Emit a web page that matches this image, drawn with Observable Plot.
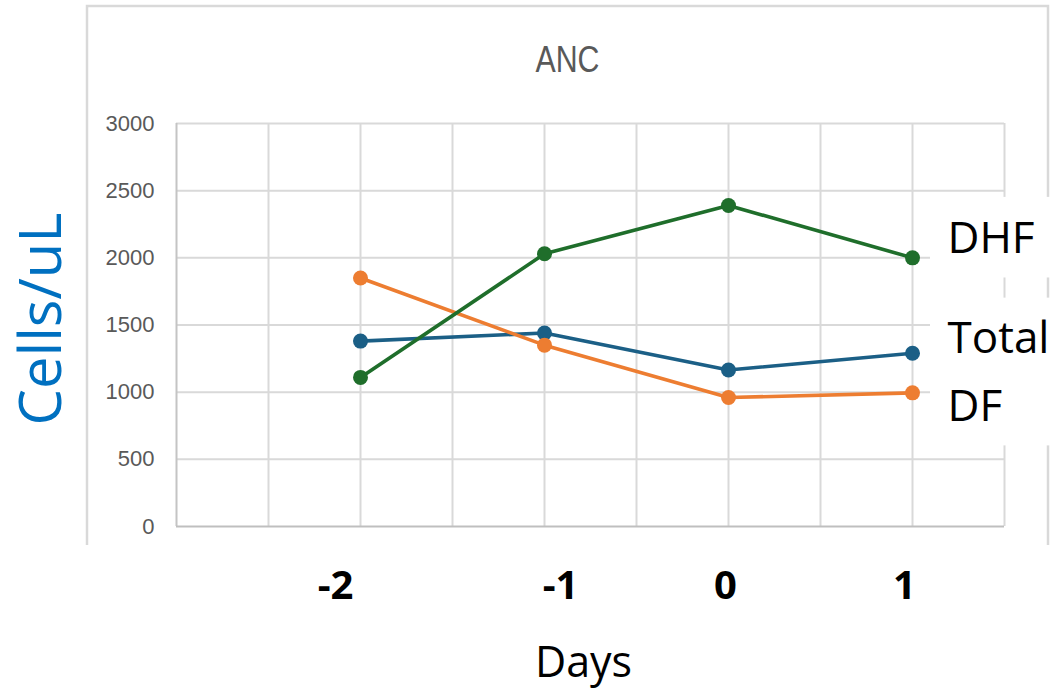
<!DOCTYPE html>
<html>
<head>
<meta charset="utf-8">
<script src="https://cdn.jsdelivr.net/npm/d3@7"></script>
<script src="https://cdn.jsdelivr.net/npm/@observablehq/plot@0.6"></script>
<style>
  body { margin: 0; background: #fff; }
  #chart svg { display: block; }
</style>
</head>
<body>
<div id="chart"></div>
<script>
// ---- data ----
const days = [-2, -1, 0, 1];
const totalValues = [1380, 1440, 1165, 1290];
const dfValues = [1850, 1350, 960, 995];
const dhfValues = [1110, 2030, 2390, 2000];
const seriesNames = ["Total", "DF", "DHF"];
const seriesColors = ["#1b5f86", "#ed7d31", "#1f6e2b"];
const yTicks = [0, 500, 1000, 1500, 2000, 2500, 3000];
const xGrid = [-3, -2.5, -2, -1.5, -1, -0.5, 0, 0.5, 1, 1.5];
const xTickLabels = ["-2", "-1", "0", "1"];
const title = "ANC";
const xLabel = "Days";
const yLabel = "Cells/uL";

// ---- styling ----
const xTickShift = [-25, 16, -3, -8];
const labelDy = {Total: -14, DF: 14, DHF: -19};
const labelBoxes = [[1850, 2450], [600, 1700]];

const seriesValues = [totalValues, dfValues, dhfValues];
const color = Object.fromEntries(seriesNames.map((n, i) => [n, seriesColors[i]]));
const rows = seriesNames.flatMap((name, i) =>
  days.map((d, j) => ({series: name, day: d, value: seriesValues[i][j]})));
const lastRows = seriesNames.map((name, i) =>
  ({series: name, day: days[days.length - 1], value: seriesValues[i][days.length - 1]}));

function decor(index, scales, values, dims) {
  const g = d3.create("svg:g");
  g.append("path")
    .attr("d", "M87,545V6H1048V545")
    .attr("fill", "none")
    .attr("stroke", "#d9d9d9")
    .attr("stroke-width", 2.5);
  const x = scales.x, y = scales.y;
  const bx = x(days[days.length - 1]) + 18;
  for (const [lo, hi] of labelBoxes) {
    g.append("rect")
      .attr("x", bx).attr("y", y(hi))
      .attr("width", dims.width - bx)
      .attr("height", y(lo) - y(hi))
      .attr("fill", "white");
  }
  return g.node();
}

const sans = "'Open Sans', 'Noto Sans', sans-serif";
const marks = [
  Plot.ruleX(xGrid.slice(1), {x: d => d, stroke: "#d9d9d9", strokeWidth: 2}),
  Plot.ruleY(yTicks.slice(1), {y: d => d, stroke: "#d9d9d9", strokeWidth: 2}),
  Plot.ruleX([xGrid[0]], {x: d => d, stroke: "#c4c4c4", strokeWidth: 2}),
  Plot.ruleY([0], {y: d => d, stroke: "#bfbfbf", strokeWidth: 2.2}),
  decor
];
for (const name of seriesNames) {
  const data = rows.filter(r => r.series === name);
  marks.push(Plot.line(data, {x: "day", y: "value", stroke: color[name], strokeWidth: 3.6}));
  marks.push(Plot.dot(data, {x: "day", y: "value", r: 7.5, fill: color[name], stroke: "none"}));
}
// y tick labels
marks.push(Plot.text(yTicks, {
  y: d => d, text: d => String(d), frameAnchor: "left", textAnchor: "end", lineAnchor: "middle", dx: -22,
  fill: "#595959", fontSize: 22, fontFamily: "'Liberation Sans', Arial, sans-serif"
}));
// x tick labels
days.forEach((d, i) => {
  marks.push(Plot.text([d], {
    x: v => v, text: () => xTickLabels[i], frameAnchor: "bottom", lineAnchor: "middle", textAnchor: "middle",
    dy: 60, dx: xTickShift[i],
    fontSize: 40, fontWeight: "bold", fill: "#000", fontFamily: sans
  }));
});
// series labels
for (const r of lastRows) {
  marks.push(Plot.text([r], {
    x: "day", y: "value", text: "series", textAnchor: "start", lineAnchor: "middle", dx: 35, dy: labelDy[r.series],
    fontSize: 44, fill: "#000", fontFamily: sans
  }));
}
// axis titles and chart title
marks.push(Plot.text([xLabel], {text: d => d, frameAnchor: "bottom", textAnchor: "middle", lineAnchor: "middle", dx: -7, dy: 137, fontSize: 43, fill: "#000", fontFamily: sans}));
marks.push(Plot.text([yLabel], {text: d => d, frameAnchor: "left", textAnchor: "middle", lineAnchor: "middle", rotate: -90, dx: -134, dy: -6, fontSize: 58, fill: "#0070c0", fontFamily: sans}));
marks.push(Plot.text([title], {text: d => d, frameAnchor: "top", textAnchor: "middle", lineAnchor: "middle", dx: -23, dy: -63, fontSize: 37, fill: "#595959", fontFamily: "'Liberation Sans', Arial, sans-serif"}));

const chart = Plot.plot({
  width: 1051,
  height: 690,
  marginLeft: 176,
  marginRight: 47,
  marginTop: 123,
  marginBottom: 164,
  x: {domain: [-3, 1.5], axis: null},
  y: {domain: [0, 3000], axis: null},
  style: {background: "white", overflow: "visible"},
  marks
});
// condense the Excel-style title (narrow face in the reference)
d3.select(chart).selectAll("text").each(function() {
  if (this.textContent === title) {
    d3.select(this).attr("textLength", 64).attr("lengthAdjust", "spacingAndGlyphs");
  }
});
document.getElementById("chart").appendChild(chart);
</script>
</body>
</html>
